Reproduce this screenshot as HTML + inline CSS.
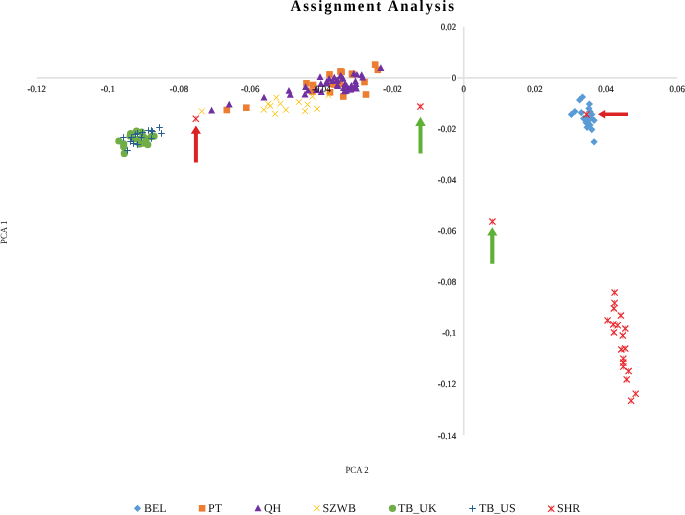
<!DOCTYPE html><html><head><meta charset="utf-8"><style>html,body{margin:0;padding:0;background:#fff;width:685px;height:515px;overflow:hidden}svg{display:block;will-change:transform}text{font-family:"Liberation Serif",serif;text-rendering:geometricPrecision}.tl{stroke:#111;stroke-width:0.18px}</style></head><body>
<svg width="685" height="515" viewBox="0 0 685 515">
<defs>
<polygon id="dm" points="0,-3.6 3.6,0 0,3.6 -3.6,0" fill="#5B9BD5"/>
<rect id="sq" x="-3.3" y="-3.3" width="6.6" height="6.6" fill="#ED7D31"/>
<polygon id="tr" points="0,-3.7 3.5,3 -3.5,3" fill="#7030A0"/>
<path id="xx" d="M-2.9,-2.9L2.9,2.9M-2.9,2.9L2.9,-2.9" stroke="#FFC000" stroke-width="1" fill="none"/>
<circle id="ci" r="3.6" fill="#70AD47"/>
<path id="pl" d="M-3.3,0H3.3M0,-3.3V3.3" stroke="#255E91" stroke-width="1" fill="none"/>
<g id="st" fill="none" stroke="#E8262B"><path d="M-3.1,-3.1L3.1,3.1M-3.1,3.1L3.1,-3.1" stroke-width="1.15"/><path d="M0,-3V3" stroke-width="0.7"/></g>
</defs>
<line x1="36.8" y1="77.9" x2="677.3" y2="77.9" stroke="#e2e2e2" stroke-width="1.6"/>
<line x1="463.7" y1="26.7" x2="463.7" y2="435.3" stroke="#e2e2e2" stroke-width="1.6"/>
<rect x="450.5" y="74.9" width="6.6" height="6" fill="#fff"/>
<use href="#sq" x="312.5" y="91.5"/>
<use href="#sq" x="334" y="84.5"/>
<use href="#sq" x="340" y="84"/>
<use href="#sq" x="352.4" y="74.5"/>
<use href="#sq" x="226.8" y="110"/>
<use href="#sq" x="246.3" y="107.7"/>
<use href="#sq" x="306.5" y="83.3"/>
<use href="#sq" x="313" y="85"/>
<use href="#sq" x="329.5" y="74.4"/>
<use href="#sq" x="330" y="92.3"/>
<use href="#sq" x="340.5" y="71.4"/>
<use href="#sq" x="343.3" y="96.5"/>
<use href="#sq" x="341.6" y="72"/>
<use href="#sq" x="352" y="73.7"/>
<use href="#sq" x="364.5" y="82"/>
<use href="#sq" x="366" y="94.5"/>
<use href="#sq" x="375.2" y="64.6"/>
<use href="#sq" x="377.8" y="69.8"/>
<use href="#sq" x="331.3" y="83.6"/>
<use href="#sq" x="336.7" y="84.2"/>
<use href="#tr" x="316.5" y="90"/>
<use href="#tr" x="332.4" y="81"/>
<use href="#tr" x="337.4" y="80.2"/>
<use href="#tr" x="342.9" y="78.6"/>
<use href="#tr" x="344.8" y="84.1"/>
<use href="#tr" x="344.8" y="91.1"/>
<use href="#tr" x="348.3" y="88.7"/>
<use href="#tr" x="351.4" y="85.6"/>
<use href="#tr" x="326.6" y="81.8"/>
<use href="#tr" x="362.7" y="77.5"/>
<use href="#tr" x="356" y="84.1"/>
<use href="#tr" x="355.3" y="87.8"/>
<use href="#tr" x="350.9" y="89.3"/>
<use href="#tr" x="346.5" y="85.6"/>
<use href="#tr" x="346.5" y="90.7"/>
<use href="#tr" x="211.6" y="110.5"/>
<use href="#tr" x="229.2" y="104.4"/>
<use href="#tr" x="264" y="97.4"/>
<use href="#tr" x="289" y="90.8"/>
<use href="#tr" x="290.3" y="94.7"/>
<use href="#tr" x="305.6" y="87"/>
<use href="#tr" x="305" y="94.5"/>
<use href="#tr" x="308.1" y="90.6"/>
<use href="#tr" x="320" y="77"/>
<use href="#tr" x="320.8" y="84"/>
<use href="#tr" x="321.2" y="91.9"/>
<use href="#tr" x="329.1" y="78.8"/>
<use href="#tr" x="326.5" y="83.6"/>
<use href="#tr" x="334.3" y="77.5"/>
<use href="#tr" x="337.4" y="85.3"/>
<use href="#tr" x="340.5" y="75.7"/>
<use href="#tr" x="342.6" y="78.4"/>
<use href="#tr" x="343.5" y="88"/>
<use href="#tr" x="380.9" y="68"/>
<use href="#tr" x="341.1" y="76.4"/>
<use href="#tr" x="336.7" y="80.7"/>
<use href="#tr" x="353.8" y="73.7"/>
<use href="#tr" x="356.9" y="74.6"/>
<use href="#tr" x="361.7" y="75"/>
<use href="#tr" x="355.5" y="81.2"/>
<use href="#tr" x="355.1" y="86"/>
<use href="#tr" x="345.5" y="85.1"/>
<use href="#tr" x="344.6" y="91.2"/>
<use href="#tr" x="350.3" y="89.5"/>
<use href="#tr" x="356.4" y="88.6"/>
<use href="#tr" x="337.6" y="86"/>
<use href="#xx" x="201.8" y="111.4"/>
<use href="#xx" x="263.8" y="109.7"/>
<use href="#xx" x="268.3" y="103.9"/>
<use href="#xx" x="270.3" y="106"/>
<use href="#xx" x="276.3" y="97.6"/>
<use href="#xx" x="280.4" y="103.8"/>
<use href="#xx" x="275.2" y="113.8"/>
<use href="#xx" x="286" y="109.8"/>
<use href="#xx" x="298.8" y="102"/>
<use href="#xx" x="307.6" y="104.6"/>
<use href="#xx" x="305.1" y="111.2"/>
<use href="#xx" x="317" y="108.8"/>
<use href="#xx" x="312.5" y="96.7"/>
<use href="#xx" x="328.4" y="95.2"/>
<use href="#ci" x="118.9" y="141"/>
<use href="#ci" x="123.7" y="143.9"/>
<use href="#ci" x="123.7" y="146.8"/>
<use href="#ci" x="124.3" y="153.4"/>
<use href="#ci" x="130.6" y="133.7"/>
<use href="#ci" x="136.5" y="131.1"/>
<use href="#ci" x="141.6" y="132.2"/>
<use href="#ci" x="133.9" y="138.8"/>
<use href="#ci" x="138.3" y="139.5"/>
<use href="#ci" x="139.7" y="143.9"/>
<use href="#ci" x="144.1" y="143.2"/>
<use href="#ci" x="147.8" y="144.6"/>
<use href="#ci" x="146.3" y="138.8"/>
<use href="#ci" x="151.4" y="136.6"/>
<use href="#ci" x="154" y="136.2"/>
<use href="#ci" x="130.2" y="135.9"/>
<use href="#ci" x="143" y="136"/>
<use href="#pl" x="123.5" y="137.5"/>
<use href="#pl" x="127.5" y="150.5"/>
<use href="#pl" x="131.5" y="137.5"/>
<use href="#pl" x="130.5" y="141.5"/>
<use href="#pl" x="133.5" y="143.5"/>
<use href="#pl" x="137.5" y="144.5"/>
<use href="#pl" x="135.5" y="134.5"/>
<use href="#pl" x="137.5" y="133.5"/>
<use href="#pl" x="142.5" y="132.5"/>
<use href="#pl" x="141.5" y="137.5"/>
<use href="#pl" x="148.5" y="130.5"/>
<use href="#pl" x="151.5" y="130.5"/>
<use href="#pl" x="152.5" y="131.5"/>
<use href="#pl" x="151.5" y="138.5"/>
<use href="#pl" x="159.5" y="127.5"/>
<use href="#pl" x="161.5" y="133.5"/>
<use href="#dm" x="587.5" y="116.5"/>
<use href="#dm" x="586" y="122.5"/>
<use href="#dm" x="579.6" y="99.9"/>
<use href="#dm" x="582.5" y="97"/>
<use href="#dm" x="589.4" y="104"/>
<use href="#dm" x="571.4" y="114.4"/>
<use href="#dm" x="574.9" y="111.5"/>
<use href="#dm" x="581.3" y="112.7"/>
<use href="#dm" x="588.9" y="108.6"/>
<use href="#dm" x="590" y="111.5"/>
<use href="#dm" x="591.8" y="114.4"/>
<use href="#dm" x="583.6" y="118.5"/>
<use href="#dm" x="588.3" y="120.3"/>
<use href="#dm" x="594.1" y="120.3"/>
<use href="#dm" x="587.1" y="127.3"/>
<use href="#dm" x="591.8" y="129.6"/>
<use href="#dm" x="590" y="124.9"/>
<use href="#dm" x="594.1" y="141.8"/>
<use href="#dm" x="591.2" y="118"/>
<use href="#st" x="195.8" y="118.8"/>
<use href="#st" x="420.4" y="106.6"/>
<use href="#st" x="492.4" y="221.6"/>
<use href="#st" x="586.5" y="114.4"/>
<use href="#st" x="614.6" y="292.6"/>
<use href="#st" x="614.6" y="303"/>
<use href="#st" x="613.9" y="308.4"/>
<use href="#st" x="620.9" y="315.6"/>
<use href="#st" x="607.6" y="320.4"/>
<use href="#st" x="613.3" y="324.4"/>
<use href="#st" x="617.7" y="325.2"/>
<use href="#st" x="625.3" y="328.6"/>
<use href="#st" x="613.9" y="332.4"/>
<use href="#st" x="622.8" y="335.6"/>
<use href="#st" x="621.3" y="349.4"/>
<use href="#st" x="625.2" y="348.6"/>
<use href="#st" x="623.3" y="358.7"/>
<use href="#st" x="623.3" y="362.6"/>
<use href="#st" x="623.3" y="366.5"/>
<use href="#st" x="628.6" y="371.1"/>
<use href="#st" x="626.7" y="379.4"/>
<use href="#st" x="635.7" y="393.7"/>
<use href="#st" x="631.1" y="400.7"/>
<polygon points="195.9,125.5 201,133.7 197.9,133.7 197.9,162.4 193.9,162.4 193.9,133.7 190.8,133.7" fill="#DC2222"/>
<polygon points="420.5,116.7 425.75,125.9 422.5,125.9 422.5,153.6 418.5,153.6 418.5,125.9 415.25,125.9" fill="#5FB135"/>
<polygon points="492.3,227.2 497.4,235.6 494.4,235.6 494.4,263.7 490.2,263.7 490.2,235.6 487.2,235.6" fill="#5FB135"/>
<polygon points="597.9,114.3 605.2,110.0 605.2,112.6 628,112.6 628,116.0 605.2,116.0 605.2,118.6" fill="#DC2222"/>
<text transform="translate(36.68,92) scale(0.93,1)" class="tl" font-size="9.5" text-anchor="middle" fill="#111">-0.12</text>
<text transform="translate(107.85,92) scale(0.93,1)" class="tl" font-size="9.5" text-anchor="middle" fill="#111">-0.1</text>
<text transform="translate(179.02,92) scale(0.93,1)" class="tl" font-size="9.5" text-anchor="middle" fill="#111">-0.08</text>
<text transform="translate(250.19,92) scale(0.93,1)" class="tl" font-size="9.5" text-anchor="middle" fill="#111">-0.06</text>
<text transform="translate(321.36,92) scale(0.93,1)" class="tl" font-size="9.5" text-anchor="middle" fill="#111">-0.04</text>
<text transform="translate(392.53,92) scale(0.93,1)" class="tl" font-size="9.5" text-anchor="middle" fill="#111">-0.02</text>
<text transform="translate(463.7,92) scale(0.93,1)" class="tl" font-size="9.5" text-anchor="middle" fill="#111">0</text>
<text transform="translate(534.87,92) scale(0.93,1)" class="tl" font-size="9.5" text-anchor="middle" fill="#111">0.02</text>
<text transform="translate(606.04,92) scale(0.93,1)" class="tl" font-size="9.5" text-anchor="middle" fill="#111">0.04</text>
<text transform="translate(677.21,92) scale(0.93,1)" class="tl" font-size="9.5" text-anchor="middle" fill="#111">0.06</text>
<text transform="translate(456.2,30) scale(0.93,1)" class="tl" font-size="9.5" text-anchor="end" fill="#111">0.02</text>
<text transform="translate(456.2,81) scale(0.93,1)" class="tl" font-size="9.5" text-anchor="end" fill="#111">0</text>
<text transform="translate(456.2,132) scale(0.93,1)" class="tl" font-size="9.5" text-anchor="end" fill="#111">-0.02</text>
<text transform="translate(456.2,183) scale(0.93,1)" class="tl" font-size="9.5" text-anchor="end" fill="#111">-0.04</text>
<text transform="translate(456.2,234) scale(0.93,1)" class="tl" font-size="9.5" text-anchor="end" fill="#111">-0.06</text>
<text transform="translate(456.2,285) scale(0.93,1)" class="tl" font-size="9.5" text-anchor="end" fill="#111">-0.08</text>
<text transform="translate(456.2,336) scale(0.93,1)" class="tl" font-size="9.5" text-anchor="end" fill="#111">-0.1</text>
<text transform="translate(456.2,387) scale(0.93,1)" class="tl" font-size="9.5" text-anchor="end" fill="#111">-0.12</text>
<text transform="translate(456.2,439) scale(0.93,1)" class="tl" font-size="9.5" text-anchor="end" fill="#111">-0.14</text>
<text transform="translate(290.6,10.6) scale(0.93,1)" font-size="16" font-weight="bold" letter-spacing="1.93" fill="#000">Assignment Analysis</text>
<text transform="translate(345.4,473) scale(0.93,1)" font-size="9.5" fill="#111">PCA 2</text>
<text transform="translate(6.6,244) rotate(-90) scale(0.93,1)" font-size="9.5" fill="#111">PCA 1</text>
<use href="#dm" x="137.5" y="508.3"/>
<text x="143.9" y="512" font-size="12" fill="#111">BEL</text>
<use href="#sq" x="202.1" y="508.3"/>
<text x="208.1" y="512" font-size="12" fill="#111">PT</text>
<use href="#tr" x="258" y="508.3"/>
<text x="263.9" y="512" font-size="12" fill="#111">QH</text>
<use href="#xx" x="316.8" y="508.3"/>
<text x="322.6" y="512" font-size="12" fill="#111">SZWB</text>
<use href="#ci" x="392.5" y="508.3"/>
<text x="398" y="512" font-size="12" fill="#111">TB_UK</text>
<use href="#pl" x="472.5" y="508.5"/>
<text x="479" y="512" font-size="12" fill="#111">TB_US</text>
<use href="#st" x="551.2" y="508.7"/>
<text x="557" y="512" font-size="12" fill="#111">SHR</text>
</svg></body></html>
